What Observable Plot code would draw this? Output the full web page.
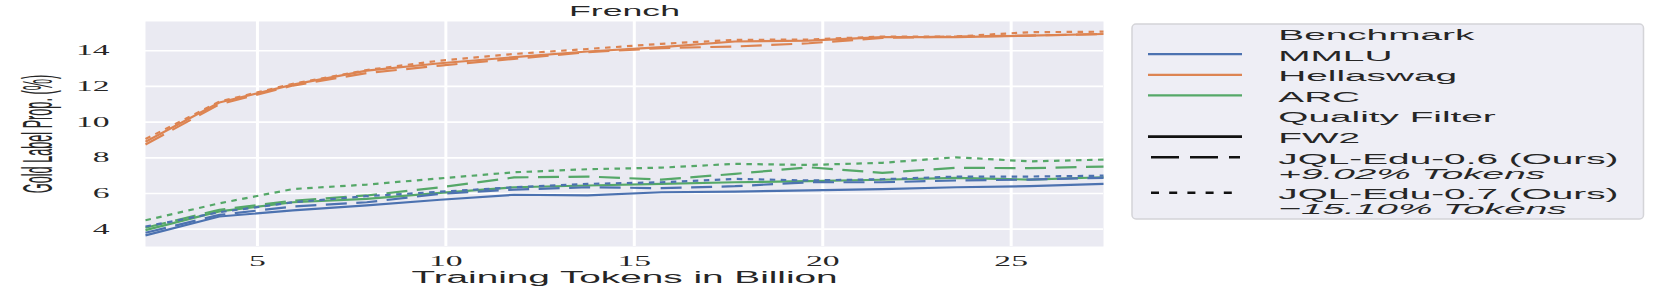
<!DOCTYPE html>
<html><head><meta charset="utf-8">
<script src="https://cdn.jsdelivr.net/npm/d3@7"></script>
<script src="https://cdn.jsdelivr.net/npm/@observablehq/plot@0.6"></script>
<style>
html,body{margin:0;padding:0;background:#fff;}
#chart{position:relative;width:1661px;height:291px;overflow:hidden;}
#chart svg{position:absolute;left:0;top:0;}
</style></head><body><div id="chart"></div>
<script>
// ---- data ----
const chartTitle = "French";
const xLabel = "Training Tokens in Billion";
const yLabel = "Gold Label Prop. (%)";
const tokens = [2.03, 3.99, 5.94, 7.90, 9.85, 11.81, 13.76, 15.72, 17.67, 19.63, 21.58, 23.54, 25.49, 27.45];
const benchmarks = ["MMLU", "Hellaswag", "ARC"];
const benchmarkColors = ["#4C72B0", "#DD8452", "#55A868"];
const filters = ["FW2", "JQL-Edu-0.6 (Ours)", "JQL-Edu-0.7 (Ours)"];
const filterNotes = ["", "+9.02% Tokens", "\u221215.10% Tokens"];
const legendBenchmarkTitle = "Benchmark";
const legendFilterTitle = "Quality Filter";
const xTicks = [5, 10, 15, 20, 25];
const yTicks = [4, 6, 8, 10, 12, 14];

const mmluFW2   = [3.65, 4.71, 5.05, 5.33, 5.65, 5.93, 5.89, 6.07, 6.11, 6.17, 6.24, 6.35, 6.41, 6.54];
const mmluJQL06 = [3.80, 4.80, 5.27, 5.51, 5.98, 6.22, 6.35, 6.30, 6.41, 6.63, 6.63, 6.73, 6.78, 6.88];
const mmluJQL07 = [4.15, 4.95, 5.51, 5.85, 6.10, 6.35, 6.54, 6.63, 6.82, 6.73, 6.80, 6.95, 6.95, 7.00];
const hellaFW2   = [8.90, 11.10, 12.10, 12.89, 13.30, 13.64, 13.96, 14.20, 14.52, 14.57, 14.76, 14.76, 14.85, 14.94];
const hellaJQL06 = [8.75, 11.00, 12.05, 12.75, 13.17, 13.55, 13.92, 14.15, 14.24, 14.42, 14.72, 14.80, 14.85, 14.94];
const hellaJQL07 = [9.05, 11.15, 12.15, 12.92, 13.45, 13.82, 14.10, 14.39, 14.61, 14.63, 14.80, 14.80, 15.04, 15.07];
const arcFW2   = [3.95, 5.00, 5.51, 5.70, 6.04, 6.35, 6.45, 6.54, 6.63, 6.69, 6.77, 6.88, 6.78, 6.91];
const arcJQL06 = [4.08, 5.09, 5.60, 5.89, 6.35, 6.90, 6.95, 6.78, 7.10, 7.47, 7.16, 7.44, 7.42, 7.51];
const arcJQL07 = [4.50, 5.45, 6.25, 6.50, 6.85, 7.19, 7.36, 7.45, 7.66, 7.60, 7.72, 8.03, 7.80, 7.90];

// ---- build table ----
const seriesValues = [
  [mmluFW2, mmluJQL06, mmluJQL07],
  [hellaFW2, hellaJQL06, hellaJQL07],
  [arcFW2, arcJQL06, arcJQL07]
];
const rows = [];
benchmarks.forEach((b, bi) => filters.forEach((f, fi) =>
  seriesValues[bi][fi].forEach((v, i) => rows.push({x: tokens[i], y: v, benchmark: b, filter: f}))));

// ---- styles ----
const sans = "'Liberation Sans', Arial, sans-serif";
const serif = "'Liberation Serif', 'DejaVu Serif', serif";
const textColor = "#262626";
const plotDashes = [null, "21,9.5", "5.5,5.5"];
const legendDashes = [null, "28,11", "8,10.2"];

const plot = Plot.plot({
  width: 1661, height: 291,
  marginLeft: 145, marginRight: 558, marginTop: 21, marginBottom: 45,
  style: {fontFamily: serif, fontSize: "14px", color: textColor, background: "transparent", overflow: "visible"},
  x: {domain: [tokens[0], tokens[tokens.length - 1]]},
  y: {domain: [3.03, 15.64]},
  color: {domain: benchmarks, range: benchmarkColors},
  marks: [
    Plot.frame({fill: "#EAEAF2", stroke: "none"}),
    Plot.gridY(yTicks, {stroke: "#ffffff", strokeOpacity: 1, strokeWidth: 1.7}),
    Plot.gridX(xTicks, {stroke: "#ffffff", strokeOpacity: 1, strokeWidth: 3}),
    ...filters.map((f, fi) => Plot.line(rows.filter(d => d.filter === f), {
      x: "x", y: "y", z: "benchmark", stroke: "benchmark",
      strokeWidth: 2.2, strokeDasharray: plotDashes[fi] || undefined,
      strokeLinecap: "butt", strokeLinejoin: "round"
    })),
    Plot.axisX(xTicks, {tickSize: 0, tickPadding: 10, label: null, fill: textColor}),
    Plot.axisY(yTicks, {tickSize: 0, tickPadding: 36, label: null, fill: textColor}),
    Plot.text([chartTitle], {frameAnchor: "top", dy: -10.5, lineAnchor: "middle", textAnchor: "middle", fontFamily: sans, fontSize: 15.5, fill: textColor}),
    Plot.text([xLabel], {frameAnchor: "bottom", dy: 31.5, lineAnchor: "middle", textAnchor: "middle", fontFamily: sans, fontSize: 16, fill: textColor}),
    Plot.text([yLabel], {frameAnchor: "left", dx: -106.5, rotate: -90, lineAnchor: "middle", textAnchor: "middle", fontFamily: sans, fontSize: 14, fill: textColor})
  ]
});
const chart = document.getElementById("chart");
chart.append(plot);

// the reference figure is horizontally stretched: widen text to match
function stretchText(t, k) {
  const L = t.getComputedTextLength();
  if (L > 0) {
    t.setAttribute("textLength", (L * k).toFixed(2));
    t.setAttribute("lengthAdjust", "spacingAndGlyphs");
  }
}
plot.querySelectorAll("text").forEach(t => {
  const c = t.textContent;
  if (c === chartTitle) stretchText(t, 2.3);
  else if (c === xLabel) stretchText(t, 2.42);
  else if (c === yLabel) {
    // rotated label: squeezed along its length, glyph height stretched horizontally
    const tr = t.getAttribute("transform") || "";
    t.setAttribute("transform", tr + " scale(0.905,3)");
  }
  else stretchText(t, 2.4);
});

// ---- legend ----
const lg = d3.select(chart).append("svg")
  .attr("width", 1661).attr("height", 291)
  .style("pointer-events", "none");
lg.append("rect")
  .attr("x", 1132).attr("y", 24).attr("width", 511.5).attr("height", 195).attr("rx", 4)
  .attr("fill", "#EEEEF5").attr("stroke", "#D4D4D8").attr("stroke-width", 1.5);

const entries = [
  {label: legendBenchmarkTitle},
  ...benchmarks.map((b, i) => ({label: b, color: benchmarkColors[i], dash: null, width: 2.2})),
  {label: legendFilterTitle},
  ...filters.map((f, i) => ({label: f, note: filterNotes[i], color: "#111111", dash: legendDashes[i], width: 2.6}))
];
const textX = 1278.3;
let base = 40;
entries.forEach(e => {
  const g = lg.append("g");
  if (e.color) {
    const line = g.append("line")
      .attr("x1", e.dash ? 1151 : 1148).attr("x2", e.dash ? 1240 : 1242)
      .attr("y1", base - 6.4).attr("y2", base - 6.4)
      .attr("stroke", e.color).attr("stroke-width", e.width);
    if (e.dash) line.attr("stroke-dasharray", e.dash);
  }
  const t = g.append("text").attr("x", textX).attr("y", base)
    .attr("font-family", sans).attr("font-size", 15.5).attr("fill", textColor).text(e.label);
  stretchText(t.node(), 2.5);
  if (e.note) {
    const n = g.append("text").attr("x", textX).attr("y", base + 15.3)
      .attr("font-family", sans).attr("font-size", 15.5).attr("font-style", "italic")
      .attr("fill", textColor).text(e.note);
    stretchText(n.node(), 2.5);
    base += 35.5;
  } else {
    base += 20.6;
  }
});
</script>
</body></html>
